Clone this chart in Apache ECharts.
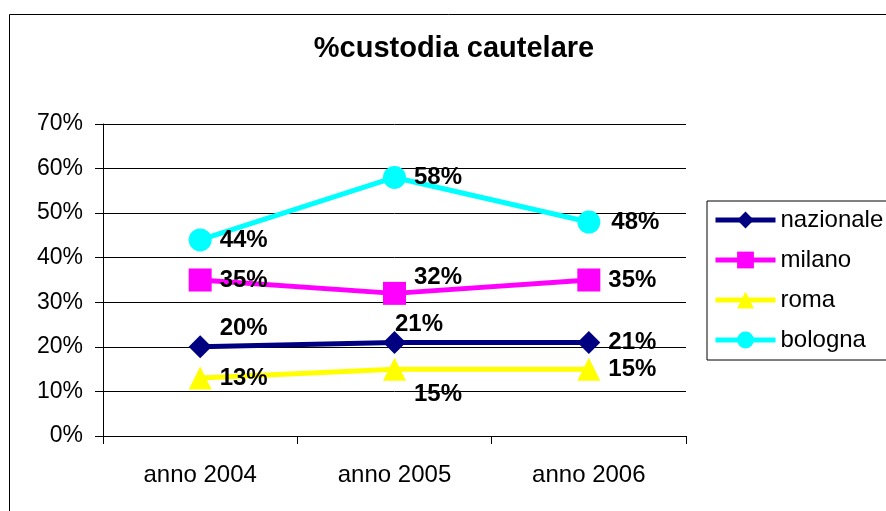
<!DOCTYPE html>
<html lang="it">
  <head>
    <meta charset="UTF-8" />
    <title>%custodia cautelare</title>
    <script src="https://cdn.jsdelivr.net/npm/echarts@6/dist/echarts.min.js"></script>
    <style>
      body { margin: 0; background: #fff; }
    </style>
  </head>
  <body>
    <div id="main" style="width: 886px; height: 511px"></div>

    <script type="text/javascript">
      // data (percent)
      const categories = ["anno 2004", "anno 2005", "anno 2006"];
      const nazionale = [20, 21, 21];
      const milano = [35, 32, 35];
      const roma = [13, 15, 15];
      const bologna = [44, 58, 48];

      // label nudges [dx, dy] per point, so labels sit like the original
      const nazionaleShift = [[0, -18], [-19, -18], [0, 0]];
      const milanoShift = [[0, 0], [0, -16], [0, 0]];
      const romaShift = [[0, 0], [0, 25], [0, 0]];
      const bolognaShift = [[0, 0], [0, 0], [3, 0]];

      const font = "Arial, 'Liberation Sans', sans-serif";

      function points(values, shifts) {
        return values.map((v, i) => ({
          value: v,
          label: { offset: shifts[i] },
        }));
      }

      function makeSeries(name, values, shifts, color, symbol) {
        return {
          name: name,
          type: "line",
          data: points(values, shifts),
          symbol: symbol,
          symbolSize: 23,
          lineStyle: { color: color, width: 5 },
          itemStyle: { color: color },
          label: {
            show: true,
            position: "right",
            distance: 8,
            formatter: "{c}%",
            color: "#000",
            fontFamily: font,
            fontWeight: "bold",
            fontSize: 24,
          },
          emphasis: { disabled: true },
          animation: false,
        };
      }

      let myChart = echarts.init(document.getElementById("main"));

      let options = {
        backgroundColor: "#fff",
        title: {
          text: "%custodia cautelare",
          left: 454,
          top: 34,
          padding: 0,
          textAlign: "center",
          textStyle: {
            fontFamily: font,
            fontWeight: "bold",
            fontSize: 29,
            color: "#000",
          },
        },
        graphic: [
          {
            type: "rect",
            shape: { x: 9.5, y: 14.5, width: 900, height: 600 },
            style: { fill: "none", stroke: "#000", lineWidth: 1 },
            silent: true,
          },
        ],
        legend: {
          orient: "vertical",
          left: 707,
          top: 201,
          padding: [7, 8, 8, 6],
          itemWidth: 60,
          itemHeight: 21,
          itemGap: 16,
          borderColor: "#000",
          borderWidth: 1,
          lineStyle: { width: 5 },
          textStyle: { fontFamily: font, fontSize: 24, color: "#000" },
          data: ["nazionale", "milano", "roma", "bologna"],
        },
        grid: { left: 103, right: 200, top: 124, bottom: 75 },
        xAxis: {
          type: "category",
          data: categories,
          boundaryGap: true,
          axisLine: { lineStyle: { color: "#000", width: 1 } },
          axisTick: { show: true, length: 8, lineStyle: { color: "#000" } },
          axisLabel: {
            color: "#000",
            fontFamily: font,
            fontSize: 24,
            margin: 27,
          },
        },
        yAxis: {
          type: "value",
          min: 0,
          max: 70,
          interval: 10,
          axisLine: { show: true, lineStyle: { color: "#000", width: 1 } },
          axisTick: { show: true, length: 8, lineStyle: { color: "#000" } },
          splitLine: { lineStyle: { color: "#000", width: 1 } },
          axisLabel: {
            formatter: "{value}%",
            color: "#000",
            fontFamily: font,
            fontSize: 23,
            margin: 20,
          },
        },
        series: [
          makeSeries("nazionale", nazionale, nazionaleShift, "#000080", "diamond"),
          makeSeries("milano", milano, milanoShift, "#FF00FF", "rect"),
          makeSeries("roma", roma, romaShift, "#FFFF00", "triangle"),
          makeSeries("bologna", bologna, bolognaShift, "#00FFFF", "circle"),
        ],
      };

      myChart.setOption(options);
    </script>
  </body>
</html>
